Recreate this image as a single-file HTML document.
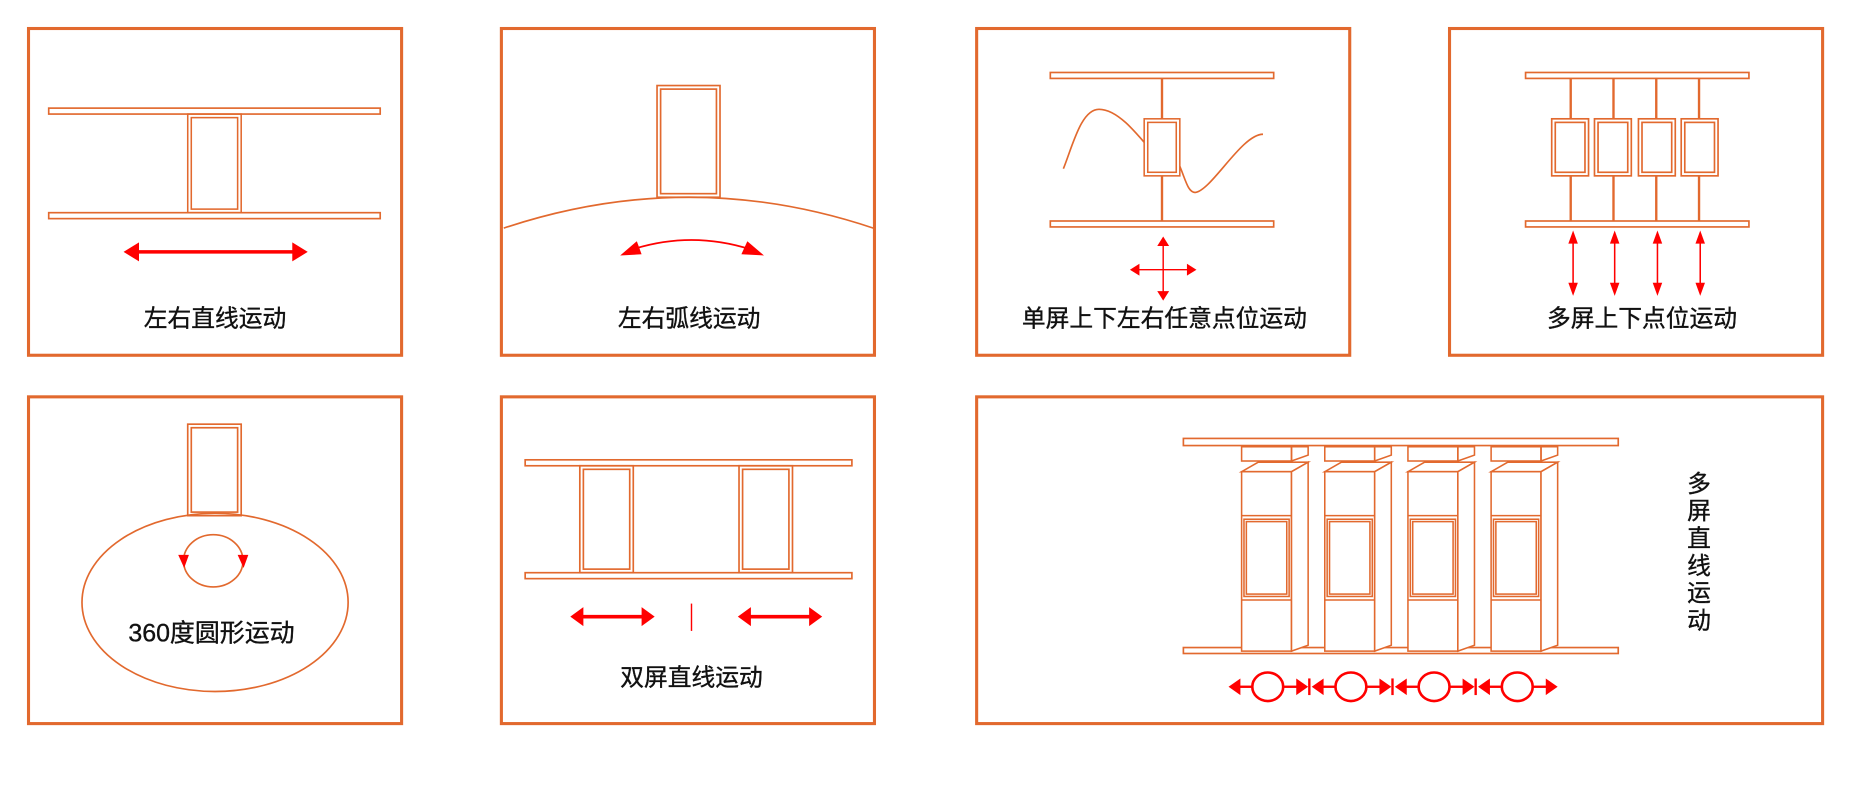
<!DOCTYPE html>
<html><head><meta charset="utf-8"><style>
html,body{margin:0;padding:0;background:#fff;width:1863px;height:807px;overflow:hidden}
svg{display:block}
text{font-family:"Liberation Sans","Noto Sans CJK SC",sans-serif;fill:#111}
</style></head><body>
<svg width="1863" height="807" viewBox="0 0 1568 679.2" preserveAspectRatio="none" xmlns="http://www.w3.org/2000/svg">
<defs>
<g id="scr"><rect x="0" y="0" width="45" height="83" fill="none" stroke="#e2692e" stroke-width="1.3"/><rect x="3" y="3" width="39" height="77" fill="none" stroke="#e2692e" stroke-width="1.3"/></g>
<g id="sscr"><rect x="0" y="0" width="30" height="48" fill="#fff" stroke="#e2692e" stroke-width="1.3"/><rect x="3" y="3" width="24" height="42" fill="none" stroke="#e2692e" stroke-width="1.3"/></g>
</defs>
<g fill="none" stroke="#e2692e" stroke-width="2.6">
<rect x="24" y="24" width="314" height="275"/>
<rect x="422" y="24" width="314" height="275"/>
<rect x="822" y="24" width="314" height="275"/>
<rect x="1220" y="24" width="314" height="275"/>
<rect x="24" y="334" width="314" height="275"/>
<rect x="422" y="334" width="314" height="275"/>
<rect x="822" y="334" width="712" height="275"/>
</g>
<g fill="none" stroke="#e2692e" stroke-width="1.4">
<rect x="41" y="91" width="279" height="5"/>
<rect x="41" y="179" width="279" height="5"/>
<use href="#scr" x="158" y="96"/>
<rect x="553" y="72" width="53" height="94"/><rect x="556" y="75" width="47" height="88"/>
<path d="M424,192 Q580,140 735,192"/>
<rect x="884" y="61" width="188" height="5"/>
<rect x="884" y="186" width="188" height="5"/>
<line x1="978" y1="66" x2="978" y2="100" stroke-width="2"/>
<line x1="978" y1="148" x2="978" y2="186" stroke-width="2"/>
<path d="M895,142 C903,122 910,92 925,92 C940,92 955,110 970,128 M993,140 C998,152 1000,162 1006,162 C1020,160 1045,113 1063,113"/>
<use href="#sscr" x="963" y="100"/>
<rect x="1284" y="61" width="188" height="5"/>
<rect x="1284" y="186" width="188" height="5"/>
<g stroke-width="2">
<line x1="1322" y1="66" x2="1322" y2="186"/><line x1="1358" y1="66" x2="1358" y2="186"/>
<line x1="1394" y1="66" x2="1394" y2="186"/><line x1="1430" y1="66" x2="1430" y2="186"/>
</g>
<g fill="#fff">
<rect x="1306" y="100" width="31" height="48"/><rect x="1309" y="103" width="25" height="42"/>
<rect x="1342" y="100" width="31" height="48"/><rect x="1345" y="103" width="25" height="42"/>
<rect x="1379" y="100" width="31" height="48"/><rect x="1382" y="103" width="25" height="42"/>
<rect x="1415" y="100" width="31" height="48"/><rect x="1418" y="103" width="25" height="42"/>
</g>
<rect x="158" y="357" width="45" height="77"/><rect x="161" y="360" width="39" height="71"/>
<ellipse cx="181" cy="507" rx="112" ry="75"/>
<ellipse cx="179.5" cy="472" rx="25" ry="22"/>
<rect x="442" y="387" width="275" height="5"/>
<rect x="442" y="482" width="275" height="5"/>
<rect x="488" y="392" width="45" height="90"/><rect x="491" y="395" width="39" height="84"/>
<rect x="622" y="392" width="45" height="90"/><rect x="625" y="395" width="39" height="84"/>
<rect x="996" y="369" width="366" height="6"/>
<rect x="996" y="545" width="366" height="5"/>
</g>
<g fill="none" stroke="#e2692e" stroke-width="1.3">
<g id="cab">
<rect x="1045" y="376" width="42" height="12" fill="#fff"/>
<polygon points="1087,376 1101,376 1101,383 1087,388"/>
<path d="M1061,389 A6,6 0 0 0 1073,389"/>
<polygon points="1045,397 1087,397 1101,389 1059,389" fill="#fff"/>
<rect x="1045" y="397" width="42" height="151" fill="#fff"/>
<polygon points="1087,397 1101,389 1101,543 1087,548" fill="#fff"/>
<line x1="1045" y1="434" x2="1087" y2="434"/>
<line x1="1045" y1="505" x2="1087" y2="505"/>
<rect x="1047" y="437" width="38" height="65"/>
<rect x="1049" y="439" width="34" height="61"/>
</g>
<use href="#cab" x="70"/>
<use href="#cab" x="140"/>
<use href="#cab" x="210"/>
</g>
<g fill="#ff0000" stroke="#ff0000">
<line x1="112" y1="212" x2="251" y2="212" stroke-width="3"/>
<polygon points="104,212 117,204 117,220" stroke="none"/>
<polygon points="259,212 246,204 246,220" stroke="none"/>
<path d="M532,210 Q582,194 632,210" fill="none" stroke-width="1.5"/>
<polygon points="522,215 536,203 540,214" stroke="none"/>
<polygon points="643,215 629,203 624,214" stroke="none"/>
<g stroke-width="1.2">
<line x1="955" y1="227" x2="1003" y2="227"/><line x1="979" y1="202" x2="979" y2="250"/>
</g>
<polygon points="951,227 959,222 959,232" stroke="none"/><polygon points="1007,227 999,222 999,232" stroke="none"/>
<polygon points="979,199 974,207 984,207" stroke="none"/><polygon points="979,253 974,245 984,245" stroke="none"/>
<g stroke-width="1.3">
<line x1="1324" y1="200" x2="1324" y2="243"/><line x1="1359" y1="200" x2="1359" y2="243"/>
<line x1="1395" y1="200" x2="1395" y2="243"/><line x1="1431" y1="200" x2="1431" y2="243"/>
</g>
<g stroke="none">
<polygon points="1324,194 1320,205 1328,205"/><polygon points="1324,249 1320,238 1328,238"/>
<polygon points="1359,194 1355,205 1363,205"/><polygon points="1359,249 1355,238 1363,238"/>
<polygon points="1395,194 1391,205 1399,205"/><polygon points="1395,249 1391,238 1399,238"/>
<polygon points="1431,194 1427,205 1435,205"/><polygon points="1431,249 1427,238 1435,238"/>
<polygon points="150,467 159,467 155,478"/><polygon points="200,467 209,467 205,478"/>
</g>
<line x1="488" y1="519" x2="543" y2="519" stroke-width="3"/>
<polygon points="480,519 491,511 491,527" stroke="none"/><polygon points="551,519 540,511 540,527" stroke="none"/>
<line x1="629" y1="519" x2="684" y2="519" stroke-width="3"/>
<polygon points="621,519 632,511 632,527" stroke="none"/><polygon points="692,519 681,511 681,527" stroke="none"/>
<line x1="582" y1="508" x2="582" y2="531" stroke-width="1.2"/>
<g id="ca">
<ellipse cx="1067" cy="578" rx="13" ry="12" fill="none" stroke-width="2.2"/>
<line x1="1042" y1="578" x2="1054" y2="578" stroke-width="2"/>
<line x1="1080" y1="578" x2="1092" y2="578" stroke-width="2"/>
<polygon points="1034,578 1044,571 1044,585" stroke="none"/>
<polygon points="1101,578 1091,571 1091,585" stroke="none"/>
</g>
<use href="#ca" x="70"/><use href="#ca" x="140"/><use href="#ca" x="210"/>
<g stroke-width="2">
<line x1="1102" y1="571" x2="1102" y2="585"/><line x1="1172" y1="571" x2="1172" y2="585"/><line x1="1242" y1="571" x2="1242" y2="585"/>
</g>
</g>
<g font-size="20" text-anchor="middle" stroke="#111" stroke-width="0.3">
<text x="181" y="275">左右直线运动</text>
<text x="580" y="275">左右弧线运动</text>
<text x="980" y="275">单屏上下左右任意点位运动</text>
<text x="1382" y="275">多屏上下点位运动</text>
<text x="178" y="540" font-size="21">360度圆形运动</text>
<text x="582" y="577">双屏直线运动</text>
<text x="1430" y="414">多</text>
<text x="1430" y="437">屏</text>
<text x="1430" y="460">直</text>
<text x="1430" y="483">线</text>
<text x="1430" y="506">运</text>
<text x="1430" y="529">动</text>
</g>
</svg>
</body></html>
